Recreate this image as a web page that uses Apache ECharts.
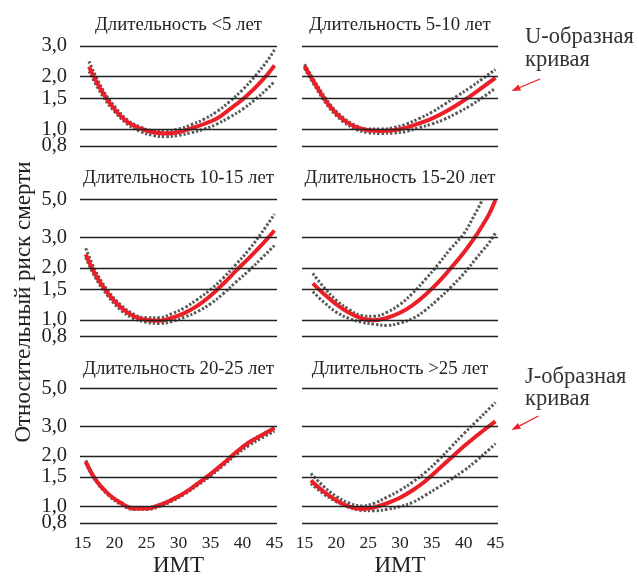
<!DOCTYPE html>
<html><head><meta charset="utf-8">
<script src="https://cdn.jsdelivr.net/npm/echarts@6/dist/echarts.min.js"></script>
<style>html,body{margin:0;padding:0;background:#fff}#c{width:639px;height:578px}</style>
</head><body><div id="c"></div>
<script>
// ---- data ----
const xTicks = [15, 20, 25, 30, 35, 40, 45];
const yTicksShort = [0.8, 1.0, 1.5, 2.0, 3.0];
const yTicksTall = [0.8, 1.0, 1.5, 2.0, 3.0, 5.0];
const titles = ['Длительность <5 лет', 'Длительность 5-10 лет', 'Длительность 10-15 лет',
                'Длительность 15-20 лет', 'Длительность 20-25 лет', 'Длительность >25 лет'];
const xName = 'ИМТ';
const yName = 'Относительный риск смерти';
const noteU = ['U-образная', 'кривая'];
const noteJ = ['J-образная', 'кривая'];

const bmi1 = [16, 18, 20, 22, 24, 26, 28, 30, 32, 34, 36, 38, 40, 42, 44, 45];
const red1 = [2.28, 1.65, 1.30, 1.10, 1.01, 0.96, 0.945, 0.96, 1.01, 1.07, 1.15, 1.30, 1.48, 1.73, 2.08, 2.32];
const up1  = [2.45, 1.72, 1.35, 1.13, 1.03, 0.98, 0.975, 1.0, 1.06, 1.14, 1.26, 1.44, 1.68, 2.02, 2.5, 2.85];
const lo1  = [2.15, 1.58, 1.26, 1.07, 0.97, 0.92, 0.905, 0.92, 0.955, 1.0, 1.07, 1.17, 1.3, 1.48, 1.72, 1.88];

const bmi2 = [15, 17, 19, 21, 23, 25, 27, 29, 31, 33, 35, 37, 39, 41, 43, 45];
const red2 = [2.30, 1.73, 1.35, 1.14, 1.03, 0.985, 0.975, 0.985, 1.02, 1.08, 1.15, 1.25, 1.38, 1.54, 1.74, 1.97];
const up2  = [2.36, 1.78, 1.39, 1.17, 1.05, 1.0, 1.0, 1.02, 1.07, 1.15, 1.25, 1.39, 1.55, 1.73, 1.95, 2.2];
const lo2  = [2.24, 1.68, 1.31, 1.11, 1.0, 0.955, 0.945, 0.95, 0.97, 1.02, 1.07, 1.14, 1.24, 1.36, 1.52, 1.72];

const bmi3 = [15.5, 17, 19, 21, 23, 25, 27, 29, 31, 33, 35, 37, 39, 41, 43, 45];
const red3 = [2.40, 1.83, 1.42, 1.18, 1.05, 1.0, 0.99, 1.03, 1.10, 1.21, 1.38, 1.62, 1.93, 2.28, 2.72, 3.3];
const up3  = [2.6, 1.93, 1.47, 1.22, 1.08, 1.03, 1.03, 1.09, 1.18, 1.32, 1.5, 1.75, 2.1, 2.55, 3.2, 4.1];
const lo3  = [2.3, 1.76, 1.37, 1.14, 1.02, 0.97, 0.955, 0.98, 1.04, 1.12, 1.24, 1.42, 1.66, 1.93, 2.28, 2.7];

const bmi4 = [16.3, 18, 20, 22, 24, 26, 28, 30, 32, 34, 36, 38, 40, 42, 43, 44, 45];
const red4 = [1.63, 1.42, 1.23, 1.1, 1.02, 0.995, 1.03, 1.1, 1.22, 1.4, 1.65, 2.0, 2.45, 3.1, 3.55, 4.1, 4.95];
const up4  = [1.86, 1.55, 1.3, 1.15, 1.06, 1.05, 1.11, 1.23, 1.43, 1.72, 2.1, 2.6, 3.15, 4.25, 5.0];
const lo4  = [1.46, 1.27, 1.11, 1.02, 0.97, 0.945, 0.93, 0.96, 1.02, 1.14, 1.32, 1.55, 1.85, 2.28, 2.53, 2.8, 3.2];

const bmi5 = [15.5, 17, 19, 21, 23, 25, 27, 29, 31, 33, 35, 37, 39, 41, 43, 45];
const red5 = [1.85, 1.45, 1.19, 1.05, 0.975, 0.975, 1.02, 1.1, 1.21, 1.37, 1.56, 1.8, 2.1, 2.4, 2.65, 2.92];
const up5  = [1.88, 1.47, 1.2, 1.06, 0.985, 0.985, 1.03, 1.11, 1.22, 1.38, 1.57, 1.81, 2.11, 2.41, 2.67, 2.94];
const lo5  = [1.82, 1.43, 1.17, 1.03, 0.962, 0.962, 1.0, 1.08, 1.19, 1.34, 1.52, 1.75, 2.03, 2.3, 2.55, 2.8];

const bmi6 = [16, 18, 20, 22, 24, 26, 28, 30, 32, 34, 36, 38, 40, 42, 44, 45];
const red6 = [1.43, 1.23, 1.09, 1.0, 0.97, 0.99, 1.05, 1.13, 1.25, 1.42, 1.66, 1.94, 2.27, 2.62, 3.0, 3.2];
const up6  = [1.57, 1.32, 1.15, 1.05, 1.01, 1.05, 1.14, 1.25, 1.4, 1.6, 1.88, 2.25, 2.7, 3.2, 3.8, 4.15];
const lo6  = [1.37, 1.19, 1.07, 0.99, 0.95, 0.945, 0.965, 1.0, 1.06, 1.17, 1.3, 1.45, 1.63, 1.87, 2.18, 2.36];

// ---- layout / style ----
const FONT = '"Liberation Serif", "Times New Roman", serif';
const RED = '#ea1f27';
const GRAY = '#5a5a5a';
const INK = '#222222';
const cols = [{left: 80, width: 197}, {left: 302, width: 196}];
const rows = [{top: 46, height: 100}, {top: 199.3, height: 137.4}, {top: 388.7, height: 137.3}];

const panels = [
  {bmi: bmi1, red: red1, up: up1, lo: lo1, ticks: yTicksShort},
  {bmi: bmi2, red: red2, up: up2, lo: lo2, ticks: yTicksShort},
  {bmi: bmi3, red: red3, up: up3, lo: lo3, ticks: yTicksTall},
  {bmi: bmi4, red: red4, up: up4, lo: lo4, ticks: yTicksTall},
  {bmi: bmi5, red: red5, up: up5, lo: lo5, ticks: yTicksTall},
  {bmi: bmi6, red: red6, up: up6, lo: lo6, ticks: yTicksTall}
];
const zip = (xs, ys) => ys.map((y, k) => [xs[k], y]);
const fmt = v => Number(v).toFixed(1).replace('.', ',');

const grids = [], xAxes = [], yAxes = [], series = [], graphic = [];
panels.forEach((p, i) => {
  const r = Math.floor(i / 2), c = i % 2;
  grids.push({left: cols[c].left, width: cols[c].width, top: rows[r].top, height: rows[r].height, containLabel: false});
  xAxes.push({
    type: 'value', gridIndex: i, min: 14.6, max: 45.4,
    axisLine: {show: false}, axisTick: {show: false}, splitLine: {show: false},
    axisLabel: {show: r === 2, customValues: xTicks, showMinLabel: true, showMaxLabel: true,
      margin: 11, fontFamily: FONT, fontSize: 17.5, color: INK},
    name: r === 2 ? xName : '', nameLocation: 'middle', nameGap: 31,
    nameTextStyle: {fontFamily: FONT, fontSize: 23, color: INK}
  });
  yAxes.push({
    type: 'log', logBase: 10, gridIndex: i, min: 0.8, max: p.ticks[p.ticks.length - 1],
    axisLine: {show: false}, axisTick: {show: false}, splitLine: {show: false},
    axisLabel: {show: false}
  });
  // horizontal rules at the tick values, with tick labels on the left column
  series.push({
    type: 'line', xAxisIndex: i, yAxisIndex: i, data: [], silent: true, z: 1,
    markLine: {silent: true, symbol: ['none', 'none'], animation: false,
      label: {show: c === 0, position: 'start', distance: 13, formatter: q => fmt(q.value),
        fontFamily: FONT, fontSize: 20.5, color: INK},
      lineStyle: {color: INK, width: 1.3, type: 'solid'},
      data: p.ticks.map(v => ({yAxis: v}))}
  });
  const dotted = {color: GRAY, width: 3, type: [2.4, 1.9], cap: 'butt'};
  series.push({type: 'line', xAxisIndex: i, yAxisIndex: i, data: zip(p.bmi, p.up), smooth: 0.4,
    showSymbol: false, silent: true, z: 2, lineStyle: dotted});
  series.push({type: 'line', xAxisIndex: i, yAxisIndex: i, data: zip(p.bmi, p.lo), smooth: 0.4,
    showSymbol: false, silent: true, z: 2, lineStyle: dotted});
  series.push({type: 'line', xAxisIndex: i, yAxisIndex: i, data: zip(p.bmi, p.red), smooth: 0.4,
    showSymbol: false, silent: true, z: 3, lineStyle: {color: RED, width: 4}});
});

// panel titles
const titleY = [25, 178.3, 369];
titles.forEach((t, i) => {
  const r = Math.floor(i / 2), c = i % 2;
  graphic.push({type: 'text', x: cols[c].left + cols[c].width / 2, y: titleY[r],
    style: {text: t, fontFamily: FONT, fontSize: 18.8, fill: INK, align: 'center', verticalAlign: 'middle'}});
});
// y axis title
graphic.push({type: 'text', x: 24, y: 302, rotation: Math.PI / 2,
  style: {text: yName, fontFamily: FONT, fontSize: 23, fill: INK, align: 'center', verticalAlign: 'middle'}});
// annotations
const note = (lines, x, y1, y2) => {
  graphic.push({type: 'text', x: x, y: y1, style: {text: lines[0], fontFamily: FONT, fontSize: 22.5, fill: '#333', align: 'left', verticalAlign: 'middle'}});
  graphic.push({type: 'text', x: x, y: y2, style: {text: lines[1], fontFamily: FONT, fontSize: 22.5, fill: '#333', align: 'left', verticalAlign: 'middle'}});
};
note(noteU, 525, 37, 60);
note(noteJ, 525, 377, 399);
const arrow = (tx, ty, hx, hy) => {
  const dx = hx - tx, dy = hy - ty, L = Math.hypot(dx, dy), ux = dx / L, uy = dy / L;
  const bx = hx - ux * 9, by = hy - uy * 9, px = -uy * 3.2, py = ux * 3.2;
  graphic.push({type: 'line', shape: {x1: tx, y1: ty, x2: bx, y2: by}, style: {stroke: RED, lineWidth: 1.2}});
  graphic.push({type: 'polygon', shape: {points: [[hx, hy], [bx + px, by + py], [bx - px, by - py]]}, style: {fill: RED}});
};
arrow(540, 79, 511.5, 91);
arrow(538.5, 416, 511.5, 430);

const chart = echarts.init(document.getElementById('c'), null, {renderer: 'canvas'});
chart.setOption({
  animation: false,
  backgroundColor: '#fff',
  grid: grids, xAxis: xAxes, yAxis: yAxes, series: series, graphic: graphic
});
</script></body></html>
